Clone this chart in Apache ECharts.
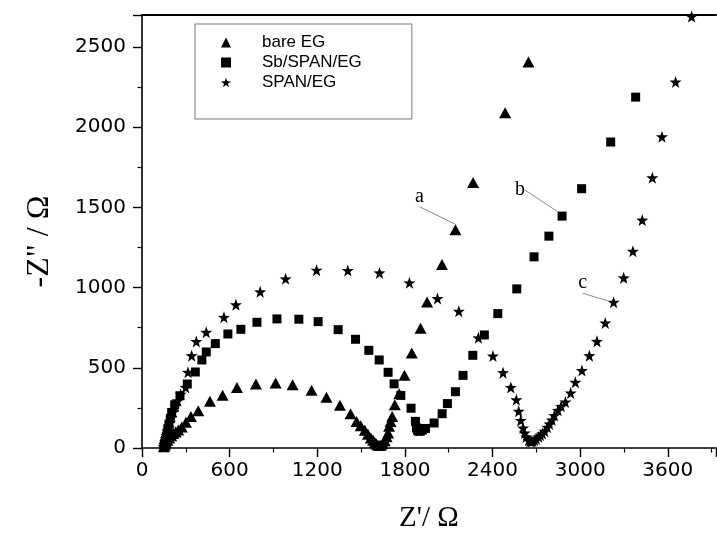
<!DOCTYPE html>
<html>
<head>
<meta charset="utf-8">
<script src="https://cdn.jsdelivr.net/npm/echarts@6/dist/echarts.min.js"></script>
<style>
  html, body { margin: 0; padding: 0; background: #fff; }
  #chart { width: 717px; height: 545px; }
</style>
</head>
<body>
<div id="chart"></div>
<script>
// Nyquist plots: Z' (Ohm) vs -Z'' (Ohm)
const seriesNames = ['bare EG', 'Sb/SPAN/EG', 'SPAN/EG'];

const bareEG = [
  [150, 8], [157, 18], [165, 32], [174, 48], [186, 62], [200, 76], [214, 90], [230, 100],
  [248, 112], [272, 131], [301, 160], [335, 197], [385, 233], [465, 291], [552, 329],
  [650, 378], [780, 399], [915, 406], [1031, 395], [1161, 360], [1263, 316], [1355, 266],
  [1428, 214], [1469, 166], [1497, 138], [1526, 110], [1547, 86], [1567, 62], [1582, 48],
  [1594, 35], [1605, 25], [1615, 18], [1625, 15], [1637, 18], [1648, 28], [1662, 45],
  [1675, 70], [1685, 94], [1692, 135], [1702, 165], [1713, 197], [1731, 270], [1761, 339],
  [1797, 453], [1847, 593], [1907, 747], [1952, 911], [2054, 1144], [2146, 1361],
  [2267, 1656], [2486, 2091], [2646, 2407]
];

const sbSpanEG = [
  [150, 10], [155, 28], [160, 48], [166, 70], [172, 95], [178, 122], [185, 150], [194, 185],
  [203, 222], [224, 270], [260, 326], [310, 399], [365, 474], [410, 549], [440, 599],
  [502, 651], [588, 711], [677, 740], [787, 784], [924, 805], [1074, 803], [1206, 788],
  [1343, 738], [1462, 678], [1553, 609], [1624, 549], [1685, 472], [1726, 400], [1772, 328],
  [1842, 248], [1872, 166], [1879, 125], [1887, 110], [1895, 104], [1907, 106], [1920, 112],
  [1941, 122], [2000, 156], [2055, 214], [2091, 277], [2146, 351], [2198, 453], [2265, 578],
  [2344, 705], [2436, 838], [2566, 992], [2684, 1192], [2786, 1321], [2876, 1446],
  [3010, 1617], [3209, 1908], [3380, 2188]
];

const spanEG = [
  [148, 8], [152, 22], [157, 38], [162, 56], [168, 78], [175, 102], [183, 128], [192, 158],
  [202, 190], [214, 225], [228, 260], [245, 295], [265, 335], [299, 378], [315, 472],
  [340, 576], [372, 664], [440, 722], [561, 815], [643, 893], [809, 974], [983, 1055],
  [1195, 1109], [1409, 1107], [1626, 1092], [1831, 1030], [2023, 932], [2169, 853],
  [2303, 687], [2403, 574], [2472, 470], [2525, 378], [2563, 301], [2579, 229], [2593, 172],
  [2609, 125], [2620, 94], [2631, 69], [2647, 48], [2656, 42], [2665, 40], [2676, 42],
  [2688, 48], [2700, 56], [2716, 69], [2728, 80], [2741, 90], [2757, 105], [2775, 130],
  [2790, 150], [2807, 175], [2823, 202], [2848, 235], [2870, 260], [2899, 287], [2935, 343],
  [2967, 410], [3012, 483], [3063, 576], [3115, 665], [3172, 780], [3229, 909], [3298, 1061],
  [3361, 1227], [3425, 1421], [3494, 1685], [3560, 1941], [3653, 2282], [3763, 2690]
];

// curve letters and the point each one points at
const curveLetters = ['a', 'b', 'c'];
const letterPoints = [[2146, 1361], [2876, 1446], [3229, 909]];

const xTickLabels = [0, 600, 1200, 1800, 2400, 3000, 3600];
const yTickLabels = [0, 500, 1000, 1500, 2000, 2500];

const STAR = 'path://M0,-10 L2.35,-3.24 L9.51,-3.09 L3.8,1.24 L5.88,8.09 L0,4 L-5.88,8.09 L-3.8,1.24 L-9.51,-3.09 L-2.35,-3.24 Z';

const seriesData = [bareEG, sbSpanEG, spanEG];
const symbols = ['triangle', 'rect', STAR];
const symbolSizes = [[12, 11], 9, 12];
const letterOffsets = [[-36, -33], [-42, -26], [-31, -19]];

function buildData(points, idx) {
  return points.map(p => {
    if (p[0] === letterPoints[idx][0] && p[1] === letterPoints[idx][1]) {
      return {
        value: p,
        label: {
          show: true,
          position: 'inside',
          formatter: curveLetters[idx],
          fontFamily: 'Liberation Serif',
          fontSize: 20,
          color: '#000'
        },
        labelLine: { show: true, lineStyle: { color: '#8a8a8a', width: 1 } }
      };
    }
    return p;
  });
}

const chart = echarts.init(document.getElementById('chart'), null, { renderer: 'canvas' });

const series = seriesData.map((pts, i) => ({
  name: seriesNames[i],
  type: 'scatter',
  symbol: symbols[i],
  symbolSize: symbolSizes[i],
  itemStyle: { color: '#000', opacity: 1 },
  data: buildData(pts, i),
  labelLayout: function () {
    return { dx: letterOffsets[i][0], dy: letterOffsets[i][1] };
  },
  emphasis: { disabled: true },
  animation: false,
  z: 3
}));

const tickFont = { fontFamily: 'DejaVu Sans', fontSize: 20, color: '#000' };

chart.setOption({
  animation: false,
  backgroundColor: '#fff',
  grid: { left: 142, top: 15, right: 1, bottom: 97, containLabel: false },
  legend: {
    orient: 'vertical',
    left: 195,
    top: 24,
    padding: [9, 50, 27, 26],
    borderColor: '#777',
    borderWidth: 1,
    itemWidth: 10,
    itemHeight: 10,
    itemGap: 1,
    textStyle: {
      fontFamily: 'Liberation Sans', fontSize: 17, color: '#000',
      lineHeight: 19, padding: [0, 0, 0, 26]
    },
    data: seriesNames,
    selectedMode: false
  },
  xAxis: [{
    type: 'value',
    min: 0,
    max: 3930,
    interval: 600,
    name: "Z'/ Ω",
    nameLocation: 'middle',
    nameGap: 56,
    nameTextStyle: { fontFamily: 'Liberation Serif', fontSize: 29, color: '#000' },
    axisLine: { show: true, onZero: false, lineStyle: { color: '#000', width: 1.6 } },
    axisTick: { show: true, inside: false, length: 9, lineStyle: { color: '#000', width: 1.4 } },
    minorTick: { show: true, splitNumber: 2, length: 4.5, lineStyle: { color: '#000', width: 1.2 } },
    axisLabel: {
      ...tickFont, margin: 13, showMaxLabel: false,
      formatter: v => xTickLabels.includes(v) ? String(v) : ''
    },
    splitLine: { show: false }
  }, {
    type: 'value',
    position: 'top',
    min: 0,
    max: 3930,
    axisLine: { show: true, onZero: false, lineStyle: { color: '#000', width: 2 } },
    axisTick: { show: false },
    axisLabel: { show: false },
    splitLine: { show: false }
  }],
  yAxis: {
    type: 'value',
    min: 0,
    max: 2700,
    interval: 500,
    name: '-Z" / Ω',
    nameLocation: 'middle',
    nameRotate: 90,
    nameGap: 86,
    nameTextStyle: { fontFamily: 'Liberation Serif', fontSize: 32, color: '#000', padding: [0, 20, 0, 0] },
    axisLine: { show: true, onZero: false, lineStyle: { color: '#000', width: 1.6 } },
    axisTick: { show: true, inside: false, length: 9, lineStyle: { color: '#000', width: 1.4 } },
    minorTick: { show: true, splitNumber: 2, length: 4.5, lineStyle: { color: '#000', width: 1.2 } },
    axisLabel: {
      ...tickFont, margin: 16, showMaxLabel: false,
      formatter: v => yTickLabels.includes(v) ? String(v) : ''
    },
    splitLine: { show: false }
  },
  series: series
});
</script>
</body>
</html>
